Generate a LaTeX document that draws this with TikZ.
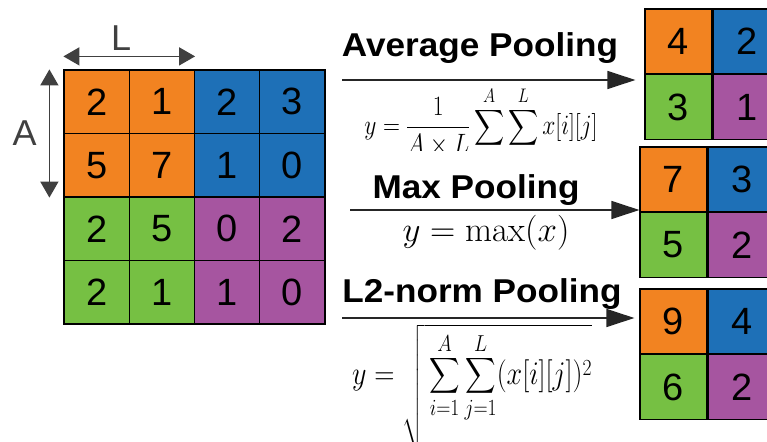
\RequirePackage{fix-cm}
\documentclass[tikz,border=0pt]{standalone}
\usepackage{fontspec}
\usepackage{amsmath}
\usetikzlibrary{positioning, arrows.meta, calc}
\newfontfamily\arialfont{Liberation Sans}
\definecolor{poolorange}{RGB}{242,131,33}
\definecolor{poolblue}{RGB}{30,112,183}
\definecolor{poolgreen}{RGB}{118,192,67}
\definecolor{poolpurple}{RGB}{166,85,160}
\tikzset{
    incell/.style={rectangle, draw=black, fill=#1, line width=1.2pt, minimum width=65.25pt, minimum height=63.5pt, inner sep=0pt, font=\fontsize{38}{40}\selectfont\arialfont},
    outcell/.style={rectangle, draw=black, fill=#1, line width=1.2pt, minimum width=67pt, minimum height=64.5pt, inner sep=0pt, font=\fontsize{38}{40}\selectfont\arialfont},
    pooltitle/.style={font=\fontsize{33}{36}\selectfont\arialfont\bfseries, anchor=base, inner sep=0pt, xscale=1.065},
    poolarr/.style={-{Triangle[length=28pt, width=18pt]}, line width=1.6pt, color=black!85},
    dimarr/.style={{Triangle[length=16pt, width=18pt]}-{Triangle[length=16pt, width=18pt]}, line width=1.5pt, color=black!75},
    dimlbl/.style={font=\fontsize{36}{38}\selectfont\arialfont, inner sep=0pt},
    formula/.style={inner sep=0pt, font=\fontsize{#1}{#1}\selectfont}
}

\begin{document}
\begin{tikzpicture}[x=1pt, y=-1pt]
    \useasboundingbox (0,0) rectangle (767,441);
    % input feature map
    \foreach \c/\r/\v/\col in {1/1/2/poolorange, 2/1/1/poolorange, 3/1/2/poolblue, 4/1/3/poolblue,
      1/2/5/poolorange, 2/2/7/poolorange, 3/2/1/poolblue, 4/2/0/poolblue,
      1/3/2/poolgreen, 2/3/5/poolgreen, 3/3/0/poolpurple, 4/3/2/poolpurple,
      1/4/2/poolgreen, 2/4/1/poolgreen, 3/4/1/poolpurple, 4/4/0/poolpurple}
      \node[incell=\col] (in\r\c) at ({64+(\c-0.5)*65.25},{70+(\r-0.5)*63.5}) {\v};
    % window size
    \draw[dimarr] ([yshift=13pt]in11.north west) -- ([yshift=13pt]in12.north east)
      node[midway, dimlbl, above=5pt, xshift=-8pt] (lsize) {L};
    \draw[dimarr] ([xshift=-14pt]in11.north west) -- ([xshift=-14pt]in21.south west)
      node[midway, dimlbl, left=12pt] (asize) {A};
    % pooled outputs
    \foreach \g/\gx/\gy/\a/\b/\c/\d in {avg/645/9/4/2/3/1, max/640/147/7/3/5/2, ltwo/640/289/9/4/6/2} {
      \node[outcell=poolorange] (\g-11) at ({\gx+33.5},{\gy+32.25}) {\a};
      \node[outcell=poolblue, right=0pt of \g-11] (\g-12) {\b};
      \node[outcell=poolgreen, below=0pt of \g-11] (\g-21) {\c};
      \node[outcell=poolpurple, right=0pt of \g-21] (\g-22) {\d};
    }
    % average pooling
    \node[pooltitle] (avgtitle) at (480,57) {Average Pooling};
    \coordinate (avgstart) at (342,80);
    \draw[poolarr, shorten >=9pt] (avgstart) -- (avgstart -| avg-21.north west);
    \begin{scope}
      \clip (340,84) rectangle (630,150);
      \node[formula=28, xscale=0.84] (avgeq) at (481,129)
        {$\displaystyle y=\frac{1}{A\times L}\sum_{i=1}^{A}\sum_{j=1}^{L}x[i][j]$};
    \end{scope}
    % max pooling
    \node[pooltitle] (maxtitle) at (476,198) {Max Pooling};
    \coordinate (maxstart) at (350,210);
    \draw[poolarr] (maxstart) -- (maxstart -| max-21.north west);
    \node[formula=35] (maxeq) at (486,233) {$y=\max(x)$};
    % l2-norm pooling
    \node[pooltitle] (ltwotitle) at (482,302) {L2-norm Pooling};
    \coordinate (ltwostart) at (342,318);
    \draw[poolarr, shorten >=5pt] (ltwostart) -- (ltwostart -| ltwo-11.west);
    \node[formula=33, xscale=0.85, anchor=north west] (ltwoeq) at (352,324)
      {$\displaystyle y=\sqrt{\rule[-2.2em]{0pt}{1pt}\sum_{i=1}^{A}\sum_{j=1}^{L}(x[i][j])^2}$};
\end{tikzpicture}
\end{document}
